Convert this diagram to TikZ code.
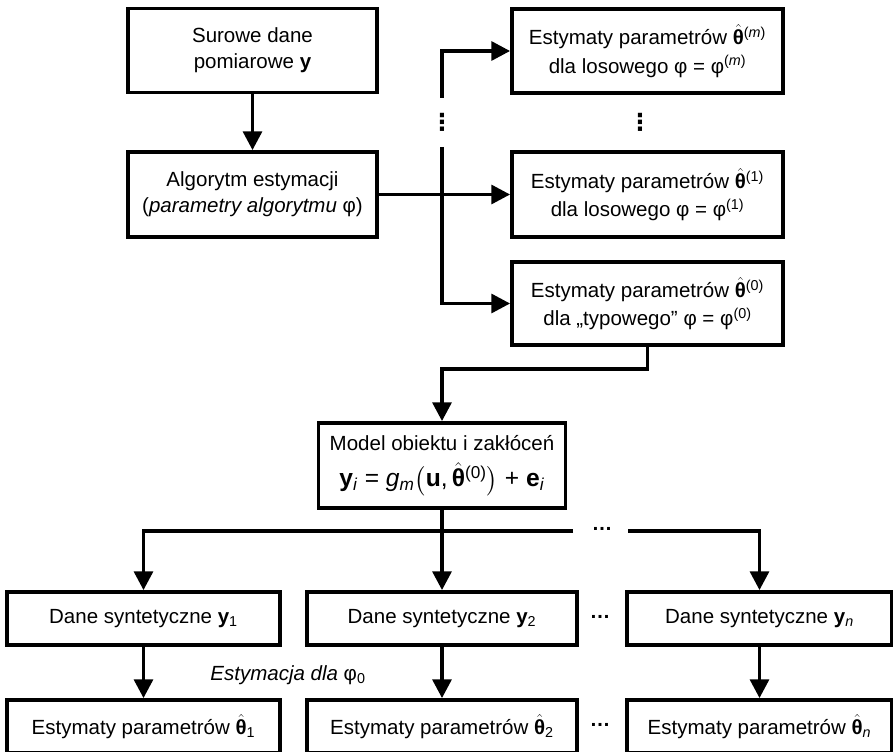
\documentclass[tikz,border=0pt]{standalone}
\usepackage{amsmath,amssymb}
\usepackage{fontspec}
\setmainfont{Liberation Sans}
\newfontfamily\dejavu{DejaVu Sans}
\usepackage{tikz}
\usetikzlibrary{arrows.meta}

\newcommand{\thh}{$\hat{\mbox{\bfseries θ}}$}

\begin{document}
\begin{tikzpicture}[line join=miter,>={Triangle[length=16pt,width=16pt]},x=0.3cm,y=-0.3cm,
  blok/.style={draw,line width=3.2pt,align=center,inner sep=0pt,font=\fontsize{17.5}{22}\selectfont},
  kropki/.style={inner sep=0pt,font=\fontsize{17.5}{22}\selectfont\bfseries},
  pion/.style={inner sep=0pt,font=\dejavu\bfseries\fontsize{20}{20}\selectfont},
  pol/.style={line width=3.2pt}]
\useasboundingbox (0,0) rectangle (89.3,75.2);
% gorna czesc
\node[blok,minimum width=7.47cm,minimum height=2.52cm] (surowe) at (25.25,5.05) {Surowe dane\\pomiarowe \textbf{y}};
\node[blok,minimum width=7.47cm,minimum height=2.55cm] (alg) at (25.25,19.45) {Algorytm estymacji\\(\textit{parametry algorytmu} φ)};
\node[blok,minimum width=8.13cm,minimum height=2.52cm] (estm) at (64.75,5.1) {Estymaty parametrów \thh\textsuperscript{(\textit{m})}\\[2pt]dla losowego φ = φ\textsuperscript{(\textit{m})}};
\node[blok,minimum width=8.13cm,minimum height=2.55cm] (est1) at (64.75,19.45) {Estymaty parametrów \thh\textsuperscript{(1)}\\[2pt]dla losowego φ = φ\textsuperscript{(1)}};
\node[blok,minimum width=8.13cm,minimum height=2.49cm] (est0) at (64.75,30.35) {Estymaty parametrów \thh\textsuperscript{(0)}\\[2pt]dla „typowego” φ = φ\textsuperscript{(0)}};
\node[blok,minimum width=7.41cm,minimum height=2.55cm] (model) at (44.2,46.55) {Model obiektu i zakłóceń\\[9pt]{\fontsize{21}{24}\selectfont\textbf{y}\textsubscript{\textit{i}} = \textit{g}\textsubscript{\textit{m}}$\bigl($\textbf{u},\,\thh\textsuperscript{(0)}$\bigr)$ + \textbf{e}\textsubscript{\textit{i}}}};
% dolna czesc
\node[blok,minimum width=8.19cm,minimum height=1.59cm] (dane1) at (14.35,61.85) {Dane syntetyczne \textbf{y}\textsubscript{1}};
\node[blok,minimum width=8.1cm,minimum height=1.59cm] (dane2) at (44.2,61.85) {Dane syntetyczne \textbf{y}\textsubscript{2}};
\node[blok,minimum width=7.95cm,minimum height=1.59cm] (danen) at (75.95,61.85) {Dane syntetyczne \textbf{y}\textsubscript{\textit{n}}};
\node[blok,minimum width=8.19cm,minimum height=1.59cm] (wyn1) at (14.35,72.65) {Estymaty parametrów \thh\textsubscript{1}};
\node[blok,minimum width=8.1cm,minimum height=1.59cm] (wyn2) at (44.2,72.65) {Estymaty parametrów \thh\textsubscript{2}};
\node[blok,minimum width=7.95cm,minimum height=1.59cm] (wynn) at (75.95,72.65) {Estymaty parametrów \thh\textsubscript{\textit{n}}};
\node[font=\fontsize{17.5}{22}\selectfont] (opis) at (28.8,67.5) {\textit{Estymacja dla} φ\textsubscript{0}};
% kropki
\node[pion] (kropkiA) at (44.2,12.2) {⋮};
\node[pion] (kropkiB) at (64.0,12.2) {⋮};
\node[kropki] (kropkiC) at (60.2,52.9) {…};
\node[kropki] (kropkiD) at (60.0,61.7) {…};
\node[kropki] (kropkiE) at (60.0,72.5) {…};
\coordinate (przerwaA) at (44.2,9.8);
\coordinate (przerwaB) at (44.2,14.7);
\coordinate (zakret) at (44.2,36.9);
\coordinate (wezel) at (44.2,53.1);
\coordinate (przerwaC) at (57.3,53.1);
\coordinate (przerwaD) at (62.8,53.1);
% polaczenia
\draw [pol,->] (surowe) -- (alg);
\draw [pol,->] (alg.east) -- (est1.west);
\draw [pol,->] (przerwaA) |- (estm.west);
\draw [pol,->] (przerwaB) |- (est0.west);
\draw [pol,->] (est0.south) |- (zakret) -- (model.north);
\draw [pol] (model.south) -- (wezel);
\draw [pol,->] (przerwaC) -| (dane1.north);
\draw [pol,->] (wezel) -- (dane2.north);
\draw [pol,->] (przerwaD) -| (danen.north);
\foreach \i in {1,2,n} {
\draw [pol,->] (dane\i) -- (wyn\i);
}
\end{tikzpicture}
\end{document}
